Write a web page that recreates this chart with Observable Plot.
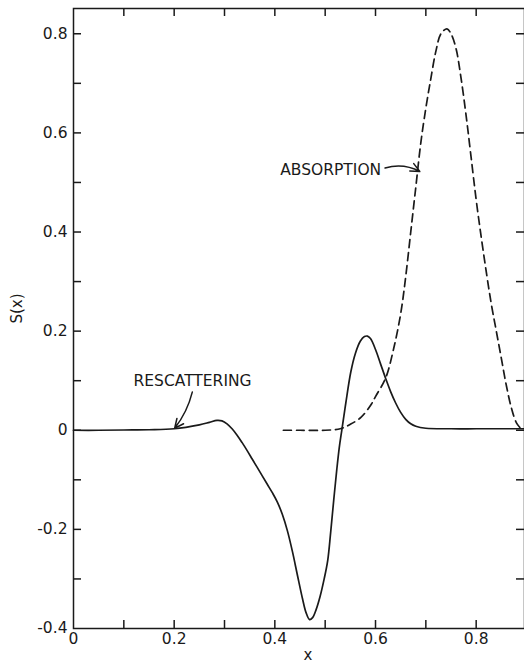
<!DOCTYPE html>
<html>
<head>
<meta charset="utf-8">
<script src="https://cdn.jsdelivr.net/npm/d3@7"></script>
<script src="https://cdn.jsdelivr.net/npm/@observablehq/plot@0.6"></script>
<style>
  html, body { margin: 0; padding: 0; background: #fff; }
  #chart svg { display: block; }
</style>
</head>
<body>
<div id="chart"></div>
<script>
// Rescattering (solid) curve
const rescX = [0, 0.05, 0.1, 0.15, 0.2, 0.25, 0.27, 0.285, 0.295, 0.305, 0.315, 0.325, 0.335, 0.345, 0.355, 0.365, 0.375, 0.385, 0.395, 0.405, 0.415, 0.425, 0.435, 0.445, 0.455, 0.462, 0.469, 0.475, 0.482, 0.49, 0.498, 0.505, 0.511, 0.517, 0.523, 0.528, 0.533, 0.541, 0.551, 0.56, 0.57, 0.578, 0.584, 0.59, 0.60, 0.61, 0.62, 0.63, 0.64, 0.65, 0.66, 0.67, 0.68, 0.70, 0.75, 0.80, 0.85, 0.9];
const rescY = [0, 0, 0.0005, 0.001, 0.003, 0.011, 0.016, 0.02, 0.019, 0.013, 0.003, -0.01, -0.025, -0.041, -0.058, -0.075, -0.092, -0.109, -0.126, -0.145, -0.17, -0.203, -0.245, -0.293, -0.34, -0.368, -0.382, -0.378, -0.362, -0.335, -0.3, -0.263, -0.205, -0.141, -0.08, -0.035, 0.0, 0.055, 0.118, 0.155, 0.18, 0.189, 0.19, 0.185, 0.163, 0.134, 0.105, 0.078, 0.055, 0.036, 0.022, 0.013, 0.008, 0.004, 0.003, 0.003, 0.003, 0.003];

// Absorption (dashed) curve
const absX = [0.417, 0.45, 0.50, 0.53, 0.55, 0.571, 0.59, 0.60, 0.62, 0.635, 0.65, 0.66, 0.67, 0.68, 0.69, 0.70, 0.71, 0.72, 0.73, 0.742, 0.75, 0.76, 0.77, 0.78, 0.79, 0.80, 0.81, 0.82, 0.83, 0.84, 0.85, 0.86, 0.87, 0.88, 0.89];
const absY = [0, 0, 0, 0.003, 0.012, 0.026, 0.05, 0.068, 0.105, 0.16, 0.235, 0.31, 0.40, 0.49, 0.58, 0.65, 0.71, 0.765, 0.80, 0.81, 0.80, 0.77, 0.71, 0.635, 0.55, 0.465, 0.39, 0.32, 0.255, 0.20, 0.145, 0.09, 0.045, 0.015, 0.002];

// Tick values
const xTickLabels = [0, 0.2, 0.4, 0.6, 0.8];
const xTickMarks = [0.1, 0.2, 0.3, 0.4, 0.5, 0.6, 0.7, 0.8];
const yTickLabels = [-0.4, -0.2, 0, 0.2, 0.4, 0.6, 0.8];
const yTickMarks = [-0.3, -0.2, -0.1, 0, 0.1, 0.2, 0.3, 0.4, 0.5, 0.6, 0.7, 0.8];

// Annotations
const annoText = ["ABSORPTION", "RESCATTERING"];
const annoTextX = [0.511, 0.2365];
const annoTextY = [0.525, 0.099];
const arrowX1 = [0.619, 0.236];
const arrowY1 = [0.529, 0.077];
const arrowX2 = [0.688, 0.201];
const arrowY2 = [0.522, 0.004];
const arrowBend = [22, 12];

const resc = rescX.map((x, i) => ({x, y: rescY[i]}));
const abs = absX.map((x, i) => ({x, y: absY[i]}));
const notes = annoText.map((t, i) => ({t, x: annoTextX[i], y: annoTextY[i]}));
const arrows = arrowX1.map((x1, i) => ({x1, y1: arrowY1[i], x2: arrowX2[i], y2: arrowY2[i]}));

const W = 524, H = 664, mL = 73, mT = 8, mB = 36, mR = 0;
const plotW = W - mL - mR, plotH = H - mT - mB;
const tickLen = 8;
const fmt = d => d === 0 ? "0" : d.toFixed(1);
const ink = "#1a1a1a";

const chart = Plot.plot({
  width: W, height: H,
  marginLeft: mL, marginTop: mT, marginBottom: mB, marginRight: mR,
  style: {fontFamily: "DejaVu Sans, sans-serif", fontSize: "15px", color: ink, background: "#fff"},
  x: {domain: [0, 0.896]},
  y: {domain: [-0.4, 0.851]},
  marks: [
    Plot.frame({stroke: ink, strokeWidth: 1.5}),
    Plot.tickX(xTickMarks, {x: d => d, insetTop: plotH - tickLen, stroke: ink, strokeWidth: 1.5}),
    Plot.tickX(xTickMarks, {x: d => d, insetBottom: plotH - tickLen, stroke: ink, strokeWidth: 1.5}),
    Plot.tickY(yTickMarks, {y: d => d, insetRight: plotW - tickLen, stroke: ink, strokeWidth: 1.5}),
    Plot.tickY(yTickMarks, {y: d => d, insetLeft: plotW - tickLen, stroke: ink, strokeWidth: 1.5}),
    Plot.axisX(xTickLabels, {tickSize: 0, tickPadding: 4, tickFormat: fmt, label: null, fontSize: 15.5, fill: ink}),
    Plot.axisY(yTickLabels, {tickSize: 0, tickPadding: 6, tickFormat: fmt, label: null, fontSize: 15.5, fill: ink}),
    Plot.text(["x"], {frameAnchor: "bottom", dy: 31, dx: 9, fontSize: 15, fill: ink}),
    Plot.text(["S(x)"], {frameAnchor: "left", dx: -56, dy: 5, rotate: -90, fontSize: 15, fill: ink}),
    Plot.line(resc, {x: "x", y: "y", curve: "catmull-rom", stroke: ink, strokeWidth: 1.7}),
    Plot.line(abs, {x: "x", y: "y", curve: "catmull-rom", stroke: ink, strokeWidth: 1.7, strokeDasharray: "8,5"}),
    Plot.text(notes, {x: "x", y: "y", text: "t", fontSize: 15.5, fill: ink}),
    ...arrows.map((a, i) => Plot.arrow([a], {x1: "x1", y1: "y1", x2: "x2", y2: "y2", bend: arrowBend[i], stroke: ink, strokeWidth: 1.5, headLength: 10, headAngle: 50}))
  ]
});
document.getElementById("chart").appendChild(chart);
</script>
</body>
</html>
